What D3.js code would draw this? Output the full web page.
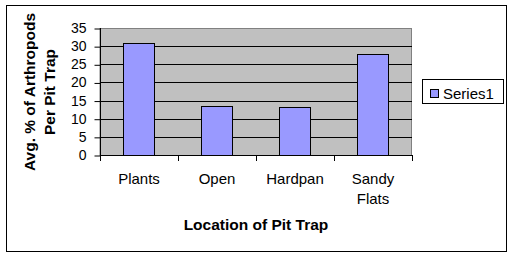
<!DOCTYPE html>
<html>
<head>
<meta charset="utf-8">
<script src="https://cdn.jsdelivr.net/npm/d3@7"></script>
<style>
body{margin:0;background:#fff;}
svg{display:block;}
text{font-family:"Liberation Sans",Arial,sans-serif;fill:#000;}
</style>
</head>
<body>
<svg id="c" width="513" height="256"></svg>
<script>
const categories = [["Plants"], ["Open"], ["Hardpan"], ["Sandy", "Flats"]];
const seriesName = "Series1";
const values = [31, 13.4, 13.1, 27.8];
const yTicks = [0, 5, 10, 15, 20, 25, 30, 35];
const yTitle = ["Avg. % of Arthropods", "Per Pit Trap"];
const xTitle = "Location of Pit Trap";

const svg = d3.select("#c");
const L = 100, R = 412, T = 28, B = 155;

svg.append("rect").attr("x", 6.5).attr("y", 5.5).attr("width", 500).attr("height", 246)
  .attr("fill", "#fff").attr("stroke", "#000").attr("stroke-width", 1);

const x = d3.scaleBand().domain(categories.map((d, i) => i)).range([L, R]).paddingInner(0.6).paddingOuter(0.3);
const xb = d3.scaleBand().domain(categories.map((d, i) => i)).range([L, R]);
const y = d3.scaleLinear().domain([0, 35]).range([B, T]);

svg.append("rect").attr("x", L).attr("y", T + 0.5).attr("width", R - L - 0.5).attr("height", B - T)
  .attr("fill", "#C0C0C0").attr("stroke", "#808080").attr("stroke-width", 1);

svg.append("g").selectAll("line").data(yTicks.filter(v => v > 0 && v < 35)).join("line")
  .attr("x1", L).attr("x2", R).attr("y1", d => Math.round(y(d)) + 0.5).attr("y2", d => Math.round(y(d)) + 0.5)
  .attr("stroke", "#000");

svg.append("g").selectAll("rect").data(values).join("rect")
  .attr("x", (d, i) => Math.round(x(i)) + 0.5)
  .attr("y", d => Math.round(y(d)) + 0.5)
  .attr("width", Math.round(x.bandwidth()))
  .attr("height", d => Math.round(B - y(d)))
  .attr("fill", "#9999FF").attr("stroke", "#000");

// y axis
const yAxis = d3.axisLeft(y).tickValues(yTicks).tickSize(6).tickPadding(8);
const gy = svg.append("g").attr("transform", `translate(${L + 0.5},0)`).call(yAxis);
gy.select(".domain").remove();
gy.append("line").attr("x1", 0).attr("x2", 0).attr("y1", T).attr("y2", B + 1).attr("stroke", "#000");
gy.selectAll(".tick line").attr("stroke", "#000").attr("transform", "translate(0,0.5)");
gy.selectAll(".tick text").attr("font-size", 14).attr("font-family", "Liberation Sans, Arial, sans-serif").attr("fill", "#000");

// x axis
const gx = svg.append("g");
gx.append("line").attr("x1", L).attr("x2", R + 1).attr("y1", B + 0.5).attr("y2", B + 0.5).attr("stroke", "#000");
const bounds = categories.map((d, i) => xb(i)).concat([R]);
gx.selectAll(".tk").data(bounds).join("line").attr("class", "tk")
  .attr("x1", d => Math.round(d) + 0.5).attr("x2", d => Math.round(d) + 0.5)
  .attr("y1", B).attr("y2", B + 6).attr("stroke", "#000");
categories.forEach((lines, i) => {
  const t = gx.append("text").attr("x", xb(i) + xb.bandwidth() / 2).attr("y", 184)
    .attr("text-anchor", "middle").attr("font-size", 15);
  lines.forEach((ln, j) => t.append("tspan").attr("x", xb(i) + xb.bandwidth() / 2).attr("dy", j ? 20 : 0).text(ln));
});

svg.append("text").attr("x", 256).attr("y", 230).attr("text-anchor", "middle")
  .attr("font-size", 15.5).attr("font-weight", "bold").text(xTitle);

const cy = (T + B) / 2 + 0.5;
yTitle.forEach((ln, j) => {
  svg.append("text").attr("transform", `translate(${35 + j * 20},${cy}) rotate(-90)`)
    .attr("text-anchor", "middle").attr("font-size", 15.5).attr("font-weight", "bold").text(ln);
});

// legend
const lg = svg.append("g");
lg.append("rect").attr("x", 422.5).attr("y", 79.5).attr("width", 81).attr("height", 24)
  .attr("fill", "#fff").attr("stroke", "#000");
lg.append("rect").attr("x", 430.5).attr("y", 89.5).attr("width", 8).attr("height", 8)
  .attr("fill", "#9999FF").attr("stroke", "#000");
lg.append("text").attr("x", 443).attr("y", 99).attr("font-size", 15).text(seriesName);
</script>
</body>
</html>
